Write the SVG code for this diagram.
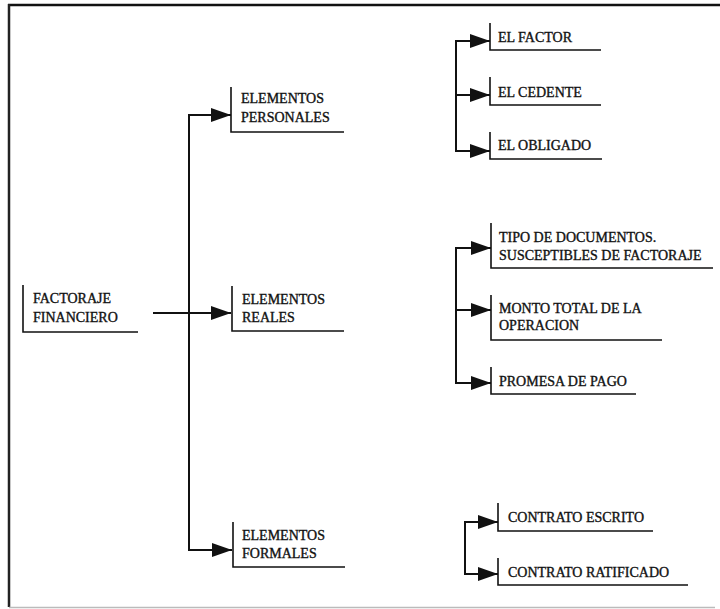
<svg xmlns="http://www.w3.org/2000/svg" width="720" height="609" viewBox="0 0 720 609">
<defs>
<marker id="ah" viewBox="0 0 20 14" refX="20" refY="7" markerWidth="20" markerHeight="14" markerUnits="userSpaceOnUse" orient="auto">
<path d="M0,0 L20,7 L0,14 Z" fill="#111"/>
</marker>
<style>
text{font-family:"Liberation Serif","Times New Roman",serif;font-size:14px;fill:#111;stroke:#111;stroke-width:0.35;}
.br{fill:none;stroke:#111;stroke-width:1.6;}
.cn{fill:none;stroke:#111;stroke-width:2;}
.ar{fill:none;stroke:#111;stroke-width:2;marker-end:url(#ah);}
</style>
</defs>
<rect width="720" height="609" fill="#fff"/>
<g id="frame">
<line x1="8" y1="5" x2="720" y2="5" stroke="#111" stroke-width="2.5"/>
<line x1="9" y1="4" x2="9" y2="607" stroke="#222" stroke-width="2.5"/>
<line x1="9" y1="607.5" x2="715" y2="607.5" stroke="#bbb" stroke-width="1.5"/>
</g>
<g id="connectors">
<line class="cn" x1="153" y1="313" x2="189" y2="313"/>
<line class="ar" x1="189" y1="313" x2="231" y2="313"/>
<line class="cn" x1="189" y1="115" x2="189" y2="550"/>
<line class="ar" x1="188" y1="115" x2="231" y2="115"/>
<line class="ar" x1="188" y1="550" x2="232" y2="550"/>
<line class="cn" x1="456" y1="41" x2="456" y2="151"/>
<line class="ar" x1="455" y1="41" x2="490" y2="41"/>
<line class="ar" x1="455" y1="95" x2="490" y2="95"/>
<line class="ar" x1="455" y1="151" x2="490" y2="151"/>
<line class="cn" x1="456" y1="248" x2="456" y2="383"/>
<line class="ar" x1="455" y1="248" x2="491" y2="248"/>
<line class="ar" x1="455" y1="310" x2="491" y2="310"/>
<line class="ar" x1="455" y1="383" x2="491" y2="383"/>
<line class="cn" x1="465" y1="522" x2="465" y2="574"/>
<line class="ar" x1="464" y1="522" x2="498" y2="522"/>
<line class="ar" x1="464" y1="574" x2="498" y2="574"/>
</g>
<g id="factoraje">
<path class="br" d="M23,285 V332 H138"/>
<text x="33" y="303">FACTORAJE</text>
<text x="33" y="322">FINANCIERO</text>
</g>
<g id="personales">
<path class="br" d="M231,87 V132 H344"/>
<text x="241" y="103">ELEMENTOS</text>
<text x="241" y="122">PERSONALES</text>
</g>
<g id="reales">
<path class="br" d="M232,286 V331 H344"/>
<text x="242" y="304">ELEMENTOS</text>
<text x="242" y="322">REALES</text>
</g>
<g id="formales">
<path class="br" d="M233,522 V567 H345"/>
<text x="242" y="540">ELEMENTOS</text>
<text x="242" y="558">FORMALES</text>
</g>
<g id="factor">
<path class="br" d="M490,23 V50 H601"/>
<text x="498" y="42">EL FACTOR</text>
</g>
<g id="cedente">
<path class="br" d="M490,77 V105 H601"/>
<text x="498" y="97">EL CEDENTE</text>
</g>
<g id="obligado">
<path class="br" d="M490,132 V159 H602"/>
<text x="498" y="150">EL OBLIGADO</text>
</g>
<g id="tipo">
<path class="br" d="M491,223 V268 H713"/>
<text x="499" y="242">TIPO DE DOCUMENTOS.</text>
<text x="499" y="260">SUSCEPTIBLES DE FACTORAJE</text>
</g>
<g id="monto">
<path class="br" d="M491,295 V340 H662"/>
<text x="499" y="313">MONTO TOTAL DE LA</text>
<text x="499" y="330">OPERACION</text>
</g>
<g id="promesa">
<path class="br" d="M491,367 V394 H636"/>
<text x="499" y="386">PROMESA DE PAGO</text>
</g>
<g id="escrito">
<path class="br" d="M498,503 V531 H653"/>
<text x="508" y="522">CONTRATO ESCRITO</text>
</g>
<g id="ratificado">
<path class="br" d="M498,558 V585 H688"/>
<text x="508" y="577">CONTRATO RATIFICADO</text>
</g>
</svg>
